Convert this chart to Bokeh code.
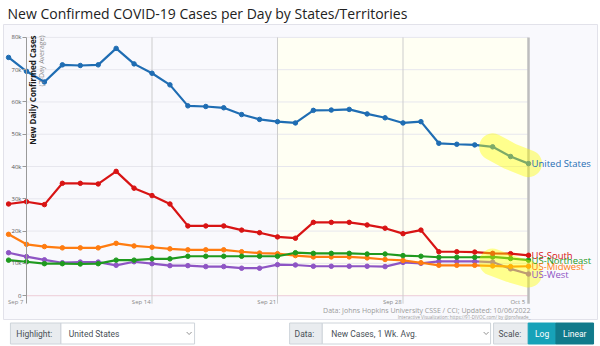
import math
import pandas as pd
from bokeh.plotting import figure
from bokeh.models import Range1d, LinearAxis, FixedTicker, NumeralTickFormatter, BoxAnnotation
from bokeh.layouts import column
from bokeh.embed import file_html
from bokeh.resources import INLINE
from bokeh.core.properties import value

# ---------------- data ----------------
dates = ["2022-09-06", "2022-09-07", "2022-09-08", "2022-09-09", "2022-09-10", "2022-09-11",
         "2022-09-12", "2022-09-13", "2022-09-14", "2022-09-15", "2022-09-16", "2022-09-17",
         "2022-09-18", "2022-09-19", "2022-09-20", "2022-09-21", "2022-09-22", "2022-09-23",
         "2022-09-24", "2022-09-25", "2022-09-26", "2022-09-27", "2022-09-28", "2022-09-29",
         "2022-09-30", "2022-10-01", "2022-10-02", "2022-10-03", "2022-10-04", "2022-10-05"]

united_states = [73800, 69500, 66200, 71500, 71300, 71500, 76600, 71800, 68900, 65300,
                 58800, 58600, 58200, 56100, 54600, 53900, 53500, 57400, 57500, 57700,
                 56300, 55100, 53500, 53900, 47200, 46900, 46700, 46100, 43100, 40900]
us_south = [28400, 29100, 28200, 34800, 34800, 34600, 38500, 33300, 31000, 28400,
            21600, 21600, 21600, 20300, 19500, 18200, 17800, 22700, 22700, 22700,
            21900, 20900, 19200, 20300, 13600, 13600, 13500, 13100, 13000, 12500]
us_northeast = [11000, 10500, 9900, 9900, 9800, 9900, 11000, 11000, 11400, 11400,
                12200, 12200, 12200, 12200, 12200, 12200, 13300, 13100, 13100, 13100,
                12900, 12900, 12400, 12200, 11900, 11900, 11900, 12000, 11500, 11000]
us_midwest = [19000, 15900, 15200, 14800, 14800, 14800, 16200, 15400, 15000, 14500,
              14200, 14200, 14200, 13600, 13200, 13000, 12400, 12000, 12000, 12000,
              11700, 11200, 10900, 10200, 9400, 9400, 9400, 9200, 9000, 9100]
us_west = [13300, 12100, 11100, 10200, 10400, 10400, 9400, 10500, 9900, 9300,
           9300, 9000, 9000, 8500, 8500, 9600, 9500, 9100, 9100, 9100,
           9100, 9000, 10300, 10000, 10600, 10600, 10600, 10400, 8300, 6700]

series_names = ["United States", "US-South", "US-Northeast", "US-Midwest", "US-West"]
series_values = [united_states, us_south, us_northeast, us_midwest, us_west]
series_colors = ["#1f6db3", "#d81414", "#1f9a1f", "#ff7c10", "#8e55c4"]

x_tick_dates = ["2022-09-07", "2022-09-14", "2022-09-21", "2022-09-28", "2022-10-05"]
x_tick_labels = ["Sep 7", "Sep 14", "Sep 21", "Sep 28", "Oct 5"]
y_ticks = [0, 10000, 20000, 30000, 40000, 50000, 60000, 70000, 80000]
highlighted = ["United States", "US-West"]

title_text = "New Confirmed COVID-19 Cases per Day by States/Territories"
y_title = "New Daily Confirmed Cases"
y_subtitle = "(7-Day Average)"
source_note = "Data: Johns Hopkins University CSSE / CCI; Updated: 10/06/2022"
credit_note = "Interactive Visualization: https://91-DIVOC.com/ by @profwade_"

# ---------------- helpers ----------------
DAY = 86400000


def ms(d):
    return int(pd.Timestamp(d).value // 10**6)


x = pd.to_datetime(dates)
first_tick, last_tick = ms(x_tick_dates[0]), ms(x_tick_dates[-1])
FONT = "Open Sans"

p = figure(width=600, height=320, x_axis_type="datetime",
           x_axis_location=None, y_axis_location=None,
           x_range=Range1d(first_tick - 1.283 * DAY, last_tick + 3.848 * DAY),
           y_range=Range1d(-7700, 84000),
           output_backend="svg", toolbar_location=None,
           min_border_left=3, min_border_right=3, min_border_bottom=0, min_border_top=22,
           background_fill_color="#f9f9fd", border_fill_color="white",
           outline_line_color="#e2e2ea", title=title_text)
p.grid.visible = False
p.title.text_font = "Open Sans"
p.title.text_font_size = "14px"
p.title.text_font_style = "normal"
p.title.text_color = "#222222"
p.title.offset = 4
p.title.standoff = 3

# shaded recent period
p.add_layout(BoxAnnotation(left=ms(x_tick_dates[2]), right=last_tick, bottom=0, top=y_ticks[-1],
                           fill_color="#fffff3", fill_alpha=1, line_color=None, level="underlay"))

# horizontal grid lines (bounded to the plot area)
p.segment(x0=[first_tick] * (len(y_ticks) - 1), x1=[last_tick] * (len(y_ticks) - 1),
          y0=y_ticks[1:], y1=y_ticks[1:], line_color="#e7e7ee", line_width=1)
p.segment(x0=[first_tick], x1=[last_tick], y0=[y_ticks[0]], y1=[y_ticks[0]],
          line_color="#f0d6df", line_width=1.2)

# vertical week lines
mid_ticks = [ms(d) for d in x_tick_dates[1:-1]]
p.segment(x0=mid_ticks, x1=mid_ticks, y0=[-2500] * len(mid_ticks), y1=[y_ticks[-1]] * len(mid_ticks),
          line_color="#cdcdcd", line_width=1)
p.segment(x0=[last_tick], x1=[last_tick], y0=[-2500], y1=[y_ticks[-1]],
          line_color="#bdbdbd", line_width=2.5)

# y axis pinned at Sep 7
yax = LinearAxis(fixed_location=first_tick, ticker=FixedTicker(ticks=y_ticks),
                 formatter=NumeralTickFormatter(format="0a"), bounds=(-2500, y_ticks[-1]),
                 axis_line_color="#9a9a9a", axis_line_width=1,
                 major_tick_out=4, major_tick_in=0, major_tick_line_color="#9a9a9a",
                 minor_tick_line_color=None, major_label_standoff=1,
                 major_label_text_font_size="6px", major_label_text_color="#555555",
                 major_label_text_font=FONT)
p.add_layout(yax, "left")

# x tick labels pinned at y = 0 (placed just left of each week line)
label_ticks = [ms(d) - int(0.6 * DAY) for d in x_tick_dates]
xax = LinearAxis(fixed_location=0, ticker=FixedTicker(ticks=label_ticks),
                 major_label_overrides={t: lab for t, lab in zip(label_ticks, x_tick_labels)},
                 axis_line_color=None, major_tick_line_color=None, minor_tick_line_color=None,
                 major_tick_out=0, major_tick_in=0, major_label_standoff=2,
                 major_label_text_font_size="6px", major_label_text_color="#888888",
                 major_label_text_font=FONT)
p.add_layout(xax, "below")

# series lines
for name, vals, col in reversed(list(zip(series_names, series_values, series_colors))):
    p.line(x, vals, line_color=col, line_width=2.2)
    p.scatter(x, vals, size=4.5, fill_color=col, line_color=col)

# highlights
for name, vals in zip(series_names, series_values):
    if name in highlighted:
        p.line(x[-3:], vals[-3:], line_color="#ffff00", line_alpha=0.42, line_width=27,
               line_cap="round", line_join="round")

# end labels
p.text(x=[x[-1]] * len(series_names), y=[v[-1] for v in series_values], text=series_names,
       text_color=series_colors, x_offset=3, text_baseline="middle", text_align="left",
       text_font=value(FONT), text_font_size="9.5px")

# y titles
p.text(x=[first_tick], y=[y_ticks[-1]], text=[y_title], angle=math.pi / 2, x_offset=6,
       y_offset=-2, text_align="right", text_baseline="middle", text_font=value(FONT),
       text_font_size="8px", text_font_style="bold", text_color="#1a1a1a")
p.text(x=[first_tick], y=[y_ticks[-1]], text=[y_subtitle], angle=math.pi / 2, x_offset=15,
       y_offset=-2, text_align="right", text_baseline="middle", text_font=value(FONT),
       text_font_size="7px", text_color="#8a8a8a")

# source notes
p.text(x=[last_tick], y=[0], text=[source_note], x_offset=2, y_offset=15, text_align="right",
       text_baseline="middle", text_font=value(FONT), text_font_size="7px", text_color="#9a9a9a")
p.text(x=[last_tick], y=[0], text=[credit_note], x_offset=2, y_offset=21.5, text_align="right",
       text_baseline="middle", text_font=value(FONT), text_font_size="4.5px", text_color="#9a9a9a")

# ---------------- controls row ----------------
ctrl_left = [7, 58, 289, 322, 495, 530, 558]
ctrl_right = [58, 193, 322, 492, 530, 558, 596]
ctrl_fill = ["#e9ecef", "#ffffff", "#e9ecef", "#ffffff", "#e9ecef", "#17a2b8", "#117a8b"]
ctrl_line = ["#ced4da", "#ced4da", "#ced4da", "#ced4da", "#ced4da", "#17a2b8", "#117a8b"]
ctrl_text = ["Highlight:", "United States", "Data:", "New Cases, 1 Wk. Avg.", "Scale:", "Log", "Linear"]
ctrl_text_x = [13, 66, 294, 331, 500, 544, 577]
ctrl_align = ["left", "left", "left", "left", "left", "center", "center"]
ctrl_color = ["#495057", "#495057", "#495057", "#495057", "#495057", "#ffffff", "#ffffff"]

c = figure(width=600, height=26, x_range=Range1d(0, 600), y_range=Range1d(26, 0),
           x_axis_location=None, y_axis_location=None, output_backend="svg",
           toolbar_location=None, min_border=0, outline_line_color=None,
           background_fill_color="white", border_fill_color="white")
c.grid.visible = False
c.quad(left=ctrl_left, right=ctrl_right, top=[2.5] * 7, bottom=[23.5] * 7,
       fill_color=ctrl_fill, line_color=ctrl_line, line_width=1)
c.text(x=ctrl_text_x, y=[13] * 7, text=ctrl_text, text_align=ctrl_align, text_baseline="middle",
       text_color=ctrl_color, text_font=value("Roboto"), text_font_size="8.5px")
c.multi_line(xs=[[185, 187.5, 190], [485, 487.5, 490]], ys=[[11.5, 14, 11.5], [11.5, 14, 11.5]],
             line_color="#777777", line_width=0.8)

layout = column(p, c, spacing=0)
open("out.html", "w").write(file_html(layout, INLINE))
